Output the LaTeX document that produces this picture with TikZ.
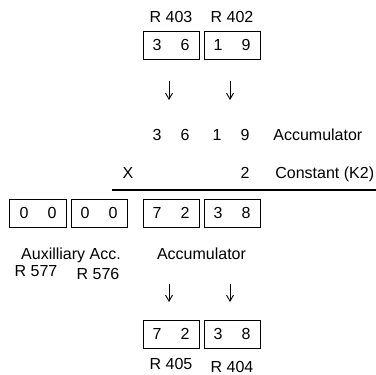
\documentclass[tikz,border=0pt]{standalone}
\usepackage{fontspec}
\setmainfont{Liberation Sans}
\usetikzlibrary{arrows.meta}

\newcommand{\pair}[2]{#1\hspace{1.2em}#2}

\tikzset{
    regbox/.style={draw, line width=0.5pt, minimum width=28pt, minimum height=14pt, inner sep=0pt},
    lbl/.style={anchor=base, inner sep=0pt},
    lbw/.style={anchor=base west, inner sep=0pt},
    darr/.style={-{Straight Barb[length=3pt,width=3.5pt]}, line width=0.45pt},
}

\begin{document}
\begin{tikzpicture}[x=0.5pt, y=-0.5pt, font=\fontsize{8}{9.6}\selectfont]
    \useasboundingbox (0,0) rectangle (376,375);

    % Source registers
    \node[regbox] (r403) at (171,45) {\pair{3}{6}};
    \node[regbox] (r402) at (232,45) {\pair{1}{9}};
    \node[lbl] (l403) at (171,23) {R 403};
    \node[lbl] (l402) at (232,23) {R 402};

    % Load arrows
    \foreach \x/\n in {169/a, 230/b}
        {
            \coordinate (lda\n) at (\x,81);
            \coordinate (ldb\n) at (\x,100);
            \draw[darr] (lda\n) -- (ldb\n);
        }

    % Accumulator and constant
    \node[lbl] (acc1) at (171,140.5) {\pair{3}{6}};
    \node[lbl] (acc2) at (231,140.5) {\pair{1}{9}};
    \node[lbw] (acclbl) at (273,140.5) {Accumulator};

    \node[lbl] (times) at (128,178.5) {X};
    \node[lbl] (k2) at (245,178.5) {2};
    \node[lbw] (k2lbl) at (275,178.5) {Constant (K2)};

    \coordinate (rulel) at (112,190);
    \coordinate (ruler) at (376,190);
    \draw[line width=0.6pt] (rulel) -- (ruler);

    % Result: auxilliary accumulator and accumulator
    \foreach \n/\x/\a/\b in {r577/38/0/0, r576/99/0/0, res1/171/7/2, res2/232/3/8}
        {
            \node[regbox] (\n) at (\x,213) {\pair{\a}{\b}};
        }
    \node[lbl] (auxlbl) at (71,259) {Auxilliary Acc.};
    \node[lbl] (reslbl) at (201.5,259) {Accumulator};
    \node[lbl] (l577) at (36,276.5) {R 577};
    \node[lbl] (l576) at (98,279.5) {R 576};

    % Store arrows
    \foreach \x/\n in {169/a, 230/b}
        {
            \coordinate (sta\n) at (\x,284);
            \coordinate (stb\n) at (\x,302);
            \draw[darr] (sta\n) -- (stb\n);
        }

    % Destination registers
    \node[regbox] (r405) at (171,334) {\pair{7}{2}};
    \node[regbox] (r404) at (232,334) {\pair{3}{8}};
    \node[lbl] (l405) at (171,370) {R 405};
    \node[lbl] (l404) at (232,372) {R 404};

\end{tikzpicture}
\end{document}
